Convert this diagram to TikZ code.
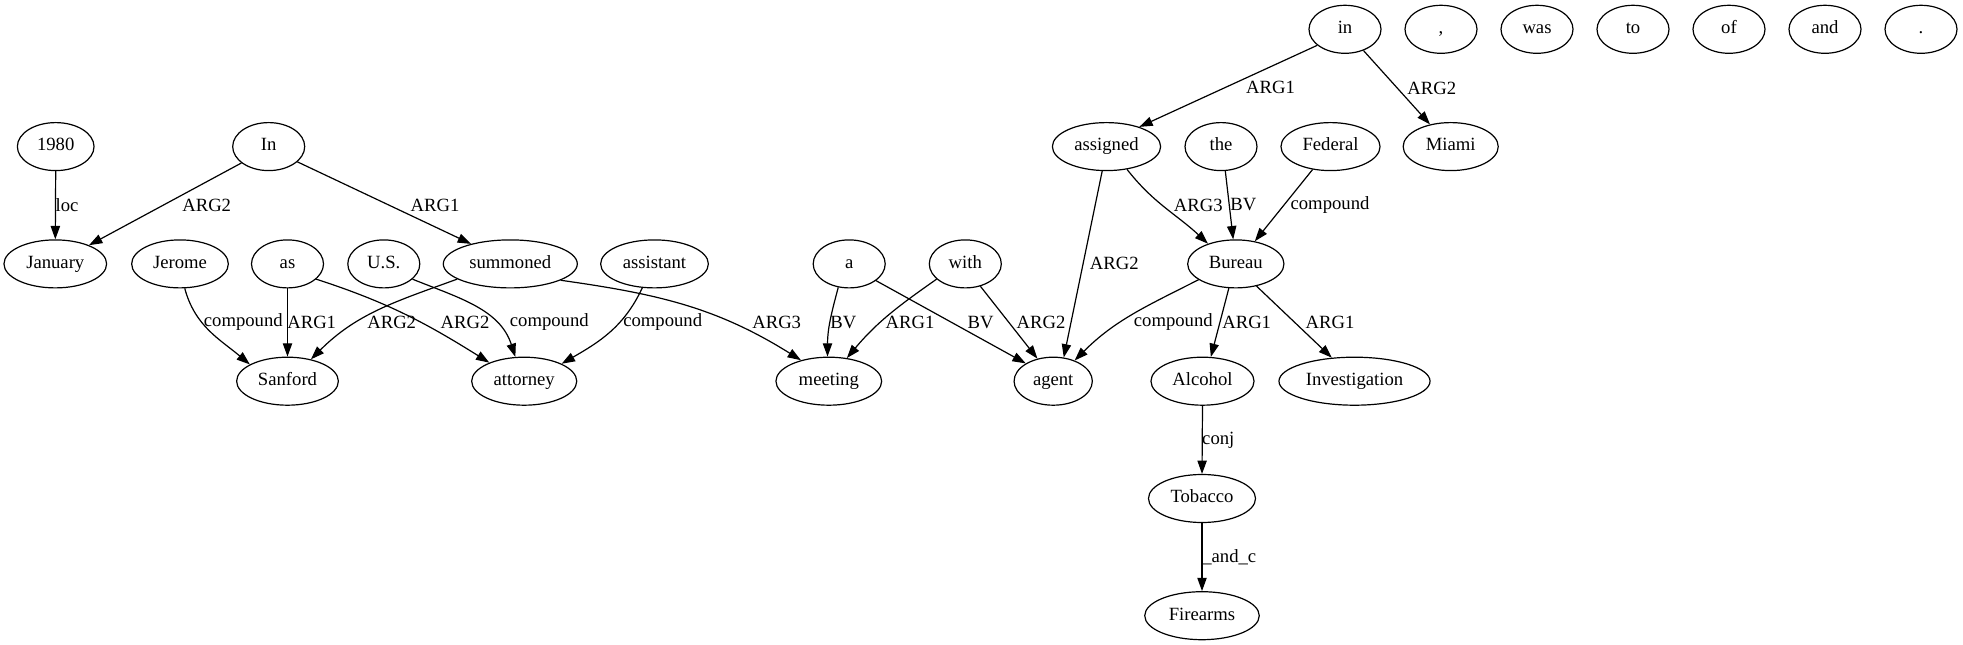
\documentclass[tikz,border=0pt]{standalone}
\usepackage{fontspec}
\setmainfont{Liberation Serif}
\usetikzlibrary{shapes.geometric,arrows.meta}
\begin{document}
\begin{tikzpicture}[x=0.75pt,y=-0.75pt,
  gnode/.style={ellipse, draw, line width=0.9pt, minimum height=36pt, minimum width=54pt, inner sep=0pt, text height=9.5pt, text depth=3pt, font=\fontsize{14}{16}\selectfont},
  lbl/.style={inner sep=0pt, font=\fontsize{14}{16}\selectfont},
  gedge/.style={line width=0.9pt, -{Triangle[length=10pt,width=7pt]}}]
\useasboundingbox (0,0) rectangle (1963,645);
% row 1
\node[gnode] (nin) at (1345,29.3) {in};
\node[gnode] (ncomma) at (1441,29.3) {,};
\node[gnode] (nwas) at (1537,29.3) {was};
\node[gnode] (nto) at (1633,29.3) {to};
\node[gnode] (nof) at (1729,29.3) {of};
\node[gnode] (nand) at (1825,29.3) {and};
\node[gnode] (ndot) at (1921,29.3) {.};
% row 2
\node[gnode, minimum width=57.5pt] (n1980) at (55.7,146.6) {1980};
\node[gnode] (nIn) at (268.7,146.6) {In};
\node[gnode, minimum width=81.2pt] (nassigned) at (1106.5,146.6) {assigned};
\node[gnode] (nthe) at (1221,146.6) {the};
\node[gnode, minimum width=74.3pt] (nFederal) at (1330.5,146.6) {Federal};
\node[gnode, minimum width=71.3pt] (nMiami) at (1450.7,146.6) {Miami};
% row 3
\node[gnode, minimum width=77pt] (nJanuary) at (55.3,263.9) {January};
\node[gnode, minimum width=72.5pt] (nJerome) at (180,263.9) {Jerome};
\node[gnode] (nas) at (287.5,263.9) {as};
\node[gnode] (nUS) at (383.8,263.9) {U.S.};
\node[gnode, minimum width=100.5pt] (nsummoned) at (510.3,263.9) {summoned};
\node[gnode, minimum width=80.8pt] (nassistant) at (654.5,263.9) {assistant};
\node[gnode] (na) at (849.2,263.9) {a};
\node[gnode] (nwith) at (965.3,263.9) {with};
\node[gnode, minimum width=72.2pt] (nBureau) at (1235.8,263.9) {Bureau};
% row 4
\node[gnode, minimum width=76.3pt] (nSanford) at (287.5,381.2) {Sanford};
\node[gnode, minimum width=78.8pt] (nattorney) at (524.2,381.2) {attorney};
\node[gnode, minimum width=79.3pt] (nmeeting) at (828.8,381.2) {meeting};
\node[gnode, minimum width=58.7pt] (nagent) at (1053.2,381.2) {agent};
\node[gnode, minimum width=77.3pt] (nAlcohol) at (1202.5,381.2) {Alcohol};
\node[gnode, minimum width=113.3pt] (nInvestigation) at (1354.5,381.2) {Investigation};
% rows 5-6
\node[gnode, minimum width=80.3pt] (nTobacco) at (1202,498.5) {Tobacco};
\node[gnode, minimum width=85.9pt] (nFirearms) at (1202,615.7) {Firearms};

% edges
\draw[gedge] (n1980.south) -- (nJanuary.north);
\node[lbl] (l1) at (67,205) {loc};
\draw[gedge] (nIn.211.7) -- (nJanuary.29.8);
\node[lbl] (l2) at (206.7,205) {ARG2};
\draw[gedge] (nIn.332.5) -- (nsummoned.153);
\node[lbl] (l3) at (435,205) {ARG1};
\draw[gedge] (nJerome.281.6) to[out=-75,in=140] (nSanford.156.6);
\node[lbl] (l4) at (243.3,322.3) {compound};
\draw[gedge] (nas.south) -- (nSanford.north);
\node[lbl] (l5) at (311.7,322.3) {ARG1};
\draw[gedge] (nsummoned.196.7) to[out=200,in=45] (nSanford.43.3);
\node[lbl] (l6) at (391.7,322.3) {ARG2};
\draw[gedge] (nas.332.2) to[out=-18,in=148] (nattorney.152.4);
\node[lbl] (l7) at (465,322.3) {ARG2};
\draw[gedge] (nUS.332.4) to[out=-22,in=108] (nattorney.110.6);
\node[lbl] (l8) at (549.3,322.3) {compound};
\draw[gedge] (nassistant.243.6) to[out=245,in=30] (nattorney.25.5);
\node[lbl] (l9) at (662.7,322.3) {compound};
\draw[gedge] (nsummoned.342.6) to[out=-8,in=148] (nmeeting.143.6);
\node[lbl] (l10) at (776.7,322.3) {ARG3};
\draw[gedge] (na.245.4) to[out=-105,in=90] (nmeeting.93.7);
\node[lbl] (l11) at (843.3,322.3) {BV};
\draw[gedge] (nwith.208) to[out=215,in=50] (nmeeting.52);
\node[lbl] (l12) at (910,322.3) {ARG1};
\draw[gedge] (na.328.6) -- (nagent.147.6);
\node[lbl] (l13) at (980.7,322.3) {BV};
\draw[gedge] (nwith.304.6) -- (nagent.125.8);
\node[lbl] (l14) at (1041,322.3) {ARG2};
\draw[gedge] (nassigned.260.8) -- (nagent.66.2);
\node[lbl] (l15) at (1114.3,263.3) {ARG2};
\draw[gedge] (nassigned.312.9) to[out=-52,in=137] (nBureau.144.7);
\node[lbl] (l16) at (1198.3,205) {ARG3};
\draw[gedge] (nthe.280) -- (nBureau.96);
\node[lbl] (l17) at (1243.3,205) {BV};
\draw[gedge] (nFederal.232) -- (nBureau.50.4);
\node[lbl] (l18) at (1330,205) {compound};
\draw[gedge] (nBureau.203.6) to[out=207,in=45] (nagent.44.2);
\node[lbl] (l19) at (1173.3,322.3) {compound};
\draw[gedge] (nBureau.254.4) -- (nAlcohol.71.9);
\node[lbl] (l20) at (1246.7,322.3) {ARG1};
\draw[gedge] (nBureau.313.8) -- (nInvestigation.134.9);
\node[lbl] (l21) at (1330,322.3) {ARG1};
\draw[gedge] (nin.210) -- (nassigned.31.5);
\node[lbl] (l22) at (1270.6,87.7) {ARG1};
\draw[gedge] (nin.311.6) -- (nMiami.133.9);
\node[lbl] (l23) at (1431.8,88) {ARG2};
\draw[gedge] (nAlcohol.south) -- (nTobacco.north);
\node[lbl] (l24) at (1218.3,440.3) {conj};
\draw[gedge] (nTobacco.south) -- (nFirearms.north);
\node[lbl] (l25) at (1229.3,557.6) {\_and\_c};
\end{tikzpicture}
\end{document}
